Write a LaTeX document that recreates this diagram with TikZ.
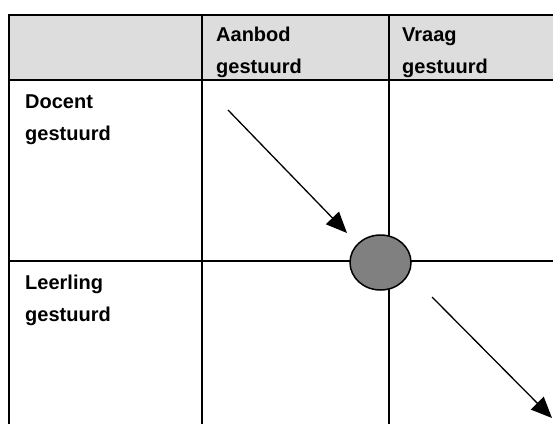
\documentclass[tikz,border=0pt]{standalone}
\usepackage{fontspec}
\setmainfont{Liberation Sans}
\usetikzlibrary{arrows.meta,shapes.geometric}
\definecolor{hdrgrey}{HTML}{DDDDDD}
\definecolor{dotgrey}{HTML}{808080}
\tikzset{
  grid/.style={line width=2pt, line cap=rect},
  lbl/.style={anchor=base west, inner sep=0pt, align=left,
    font=\bfseries\fontsize{20}{32}\selectfont},
  arr/.style={line width=1.3pt, -{Triangle[length=21pt,width=18pt]}},
}
\begin{document}
\begin{tikzpicture}[x=1pt,y=-1pt]
\useasboundingbox (0,0) rectangle (553,423);
\begin{scope}
\clip (0,0) rectangle (553,423);
% header fill
\fill[hdrgrey] (8.5,15) rectangle (560,80);
% grid lines
\draw[grid] (8.5,430) -- (8.5,15) -- (560,15);
\draw[grid] (8.5,80) -- (560,80);
\draw[grid] (8.5,261) -- (560,261);
\draw[grid] (202,15) -- (202,430);
\draw[grid] (389,15) -- (389,430);
\end{scope}
% labels (base anchor = baseline of the last line)
\node[lbl] (aanbod) at (216,73.7) {Aanbod\\gestuurd};
\node[lbl] (vraag) at (402,73.7) {Vraag\\gestuurd};
\node[lbl] (docent) at (25,140.5) {Docent\\gestuurd};
\node[lbl] (leerling) at (25,321.5) {Leerling\\gestuurd};
% centre dot
\node[draw, line width=1.5pt, fill=dotgrey, ellipse, minimum width=61pt, minimum height=55pt, inner sep=0pt] (dot) at (380.5,262.5) {};
% arrows
\coordinate (a1s) at (228,110);
\coordinate (a1e) at (347,233);
\coordinate (a2s) at (432,297);
\coordinate (a2e) at (552,418);
\draw[arr] (a1s) -- (a1e);
\draw[arr] (a2s) -- (a2e);
\end{tikzpicture}
\end{document}
